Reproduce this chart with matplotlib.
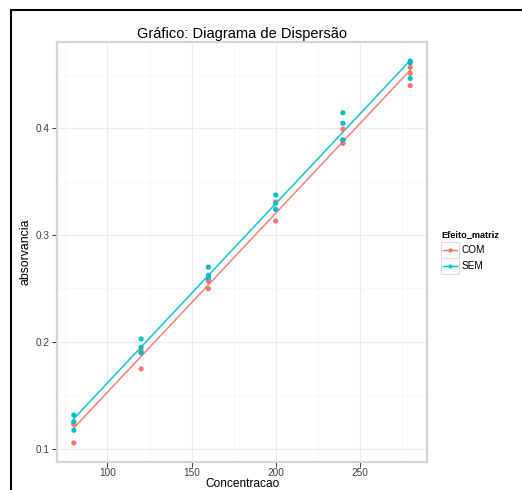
import numpy as np
import matplotlib
matplotlib.use("Agg")
import matplotlib.pyplot as plt
from matplotlib.lines import Line2D
from matplotlib.patches import Rectangle

plt.rcParams['font.family'] = ['Liberation Sans', 'DejaVu Sans']

# data (3 replicates per concentration)
conc = [80, 80, 80, 120, 120, 120, 160, 160, 160, 200, 200, 200, 240, 240, 240, 280, 280, 280]
com = [0.123, 0.1056, 0.124, 0.1748, 0.190, 0.192, 0.2586, 0.2498, 0.257,
       0.3308, 0.3131, 0.324, 0.399, 0.3857, 0.3888, 0.4567, 0.4511, 0.4396]
sem = [0.1315, 0.1255, 0.1175, 0.2028, 0.195, 0.190, 0.270, 0.2623, 0.260,
       0.3374, 0.3296, 0.324, 0.4143, 0.4044, 0.3888, 0.4626, 0.461, 0.4464]
groups = ["COM", "SEM"]
colors = {"COM": "#F8766D", "SEM": "#00BFC4"}
xticks = [100, 150, 200, 250]
yticks = [0.1, 0.2, 0.3, 0.4]

W, H = 522, 490
fig = plt.figure(figsize=(W / 100, H / 100), dpi=100)
ax = fig.add_axes([57 / W, 1 - 462 / H, 370 / W, 420 / H])

x = np.array(conc, dtype=float)
for g, vals in zip(groups, [com, sem]):
    y = np.array(vals)
    b, a = np.polyfit(x, y, 1)
    xs = np.array([x.min(), x.max()])
    ax.plot(xs, a + b * xs, color=colors[g], lw=1.1, alpha=0.9, zorder=3)
    ax.scatter(x, y, s=14, color=colors[g], edgecolors='none', zorder=4)

# ggplot-like 5% expansion
allv = np.array(com + sem)
ex = (x.max() - x.min()) * 0.05
ey = (allv.max() - allv.min()) * 0.05
ax.set_xlim(x.min() - ex, x.max() + ex)
ax.set_ylim(allv.min() - ey, allv.max() + ey)

ax.set_xticks(xticks)
ax.set_yticks(yticks)
ax.set_xticks([75, 125, 175, 225, 275], minor=True)
ax.set_yticks([0.15, 0.25, 0.35, 0.45], minor=True)
ax.grid(which='major', color='#ececec', lw=0.8)
ax.grid(which='minor', color='#f6f6f6', lw=0.6)
ax.set_axisbelow(True)
ax.tick_params(which='minor', length=0)
ax.tick_params(which='major', length=3.5, width=0.8, color='#444444',
               labelsize=7.2, labelcolor='#444444', pad=1.5)
ax.tick_params(axis='x', pad=1)
for s in ax.spines.values():
    s.set_color('#d4d4d4')
    s.set_linewidth(1.6)

ax.set_title("Gráfico: Diagrama de Dispersão", fontsize=10.5, pad=3)
ax.set_xlabel("Concentracao", fontsize=8.6, labelpad=0)
ax.set_ylabel("absorvancia", fontsize=8.8, labelpad=3)

# legend drawn by hand
def fx(px):
    return px / W

def fy(py):
    return 1 - py / H

fig.text(fx(441), fy(235), "Efeito_matriz", fontsize=6.6, fontweight='bold',
         va='center', ha='left')
for i, g in enumerate(groups):
    top = 242 + i * 16
    fig.add_artist(Rectangle((fx(441), fy(top + 16)), 18 / W, 16 / H,
                             transform=fig.transFigure, facecolor='white',
                             edgecolor='#dddddd', lw=0.8))
    cy = fy(top + 8)
    fig.add_artist(Line2D([fx(443), fx(457)], [cy, cy], color=colors[g], lw=1.0,
                          transform=fig.transFigure))
    fig.add_artist(Line2D([fx(450)], [cy], color=colors[g], marker='o', ms=3,
                          mec='none', transform=fig.transFigure))
    fig.text(fx(462), cy, g, fontsize=7.2, va='center', ha='left')

# screenshot frame
fig.add_artist(Line2D([fx(10.5), fx(10.5)], [0, fy(10.5)], color='black', lw=1.5,
                      transform=fig.transFigure))
fig.add_artist(Line2D([fx(10.5), 1], [fy(10.5), fy(10.5)], color='black', lw=1.5,
                      transform=fig.transFigure))

fig.savefig("out.png", dpi=100)
